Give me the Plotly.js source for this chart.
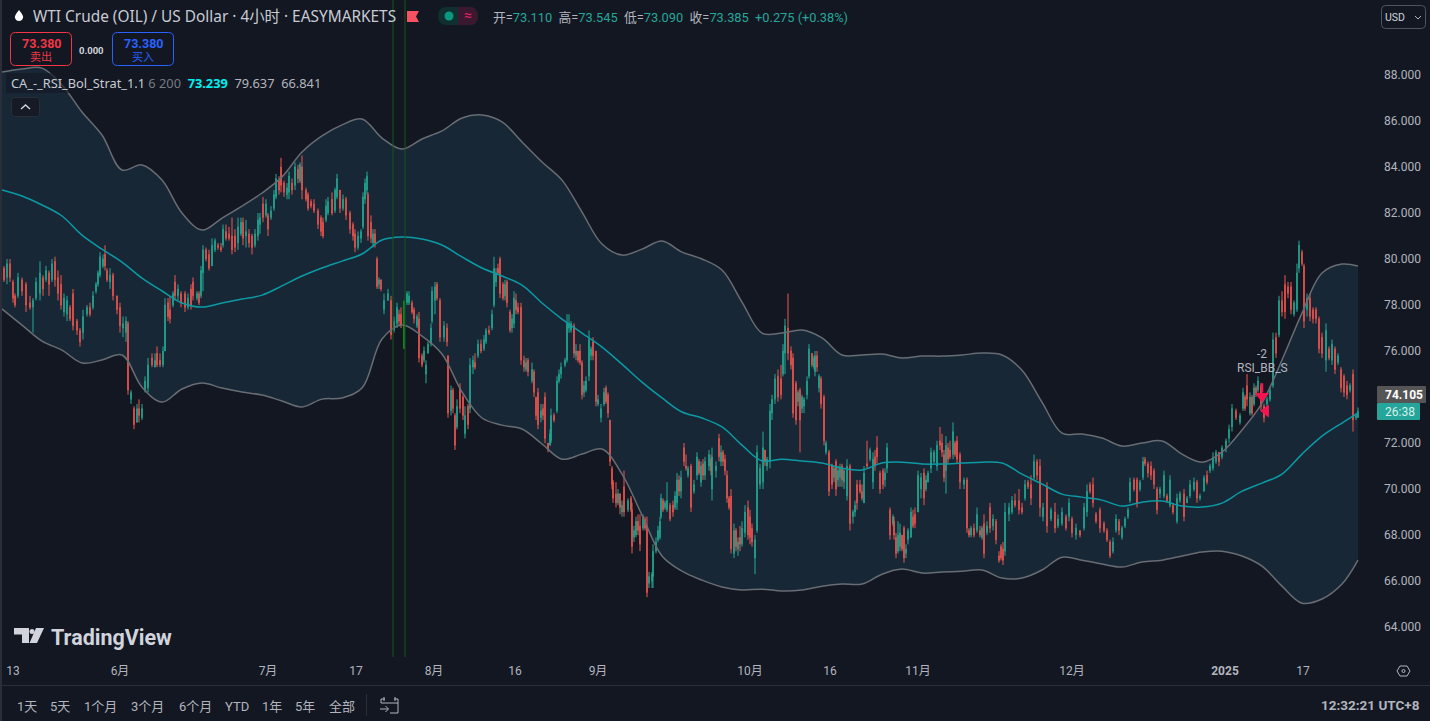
<!DOCTYPE html>
<html><head><meta charset="utf-8">
<script src="https://cdn.plot.ly/plotly-3.0.1.min.js"></script>
<style>html,body{margin:0;padding:0;background:#131722}#chart{width:1430px;height:721px}</style>
</head><body><div id="chart"></div>
<script>
// Sampled 4-hour bars: [bar number, open, high, low, close]
const barsMay=[[2,79.6,79.7,79.0,79.1],[5,79.2,80.0,78.9,79.8],[8,79.8,80.0,79.0,79.2],[11,79.0,79.1,78.1,78.3],[13,78.4,78.5,77.9,78.0],[16,78.4,79.4,78.3,79.2],[20,79.1,79.2,78.4,78.6],[24,78.9,79.0,77.7,78.0],[28,78.1,78.4,77.8,77.9],[31,77.9,78.3,76.8,78.2],[34,78.3,79.2,78.2,79.0],[38,78.5,79.9,78.2,79.4],[41,79.2,79.3,78.4,78.7],[44,79.1,79.7,79.0,79.5],[47,79.4,79.5,78.4,78.9],[50,79.1,80.0,79.0,79.8],[53,79.9,80.1,78.8,79.1],[56,79.2,79.5,78.2,78.5],[59,78.9,79.3,77.8,78.0],[62,77.7,78.5,77.5,78.3],[65,77.6,78.4,77.3,78.2],[68,77.9,78.0,77.3,77.4],[71,78.5,78.7,76.9,77.1],[75,77.3,77.4,76.7,76.9],[78,76.9,77.0,76.2,76.4],[81,76.8,77.8,76.5,77.5],[85,77.6,78.0,77.5,77.9],[88,77.9,78.1,77.5,77.6],[91,77.9,78.6,77.8,78.4],[94,78.6,79.0,78.5,78.9],[96,78.9,79.5,78.8,79.4],[98,79.3,80.3,79.2,80.1],[101,79.7,80.2,79.6,80.0],[103,80.2,80.6,79.5,79.7],[105,79.5,79.6,79.0,79.1],[108,79.0,79.6,78.7,79.3],[111,79.3,79.4,78.2,78.4],[115,78.4,78.4,77.6,77.8],[118,77.9,78.1,76.8,77.1]];
const barsJun=[[121,77.0,77.5,76.6,77.2],[124,76.8,77.5,76.4,77.3],[126,77.2,77.3,74.1,74.3],[129,73.9,74.3,73.7,74.2],[132,73.5,73.6,72.6,72.8],[135,72.9,73.7,72.9,73.5],[137,73.5,73.9,72.9,73.2],[140,73.1,73.7,73.0,73.5],[143,74.3,74.9,74.2,74.7],[146,74.4,75.7,74.2,75.4],[150,75.7,75.9,75.3,75.4],[153,75.3,75.9,75.3,75.6],[155,75.9,76.2,75.3,75.4],[158,75.6,75.9,75.3,75.4],[161,75.4,76.2,75.3,76.0],[163,76.0,78.3,76.0,78.0],[166,78.1,78.3,77.3,77.5],[168,77.8,78.4,77.2,77.4],[171,78.0,78.6,77.9,78.5],[173,79.0,79.3,78.2,78.4],[176,78.4,78.9,78.2,78.7],[179,78.5,78.6,77.9,78.1],[183,78.5,78.6,77.7,77.9],[186,77.9,78.5,77.8,78.3],[189,78.7,78.9,77.8,78.0],[191,79.0,79.2,78.2,78.4],[195,78.3,78.6,78.2,78.5],[197,78.5,78.6,78.0,78.1],[199,78.4,79.7,78.3,79.5],[201,79.4,80.6,78.6,80.4],[204,80.4,80.5,79.9,80.0],[207,80.2,80.4,79.5,79.6],[210,79.7,80.9,79.7,80.6],[213,80.4,80.9,80.3,80.8],[216,80.6,80.7,80.4,80.5],[219,80.5,80.7,80.3,80.4],[221,80.6,81.5,80.5,81.3],[224,81.2,81.5,80.8,80.9],[227,81.1,81.4,80.8,80.9],[230,81.0,81.8,80.2,80.4],[233,81.0,81.3,80.3,80.5],[236,80.7,81.8,80.4,81.4],[239,81.1,81.8,81.0,81.6],[241,81.6,81.8,80.6,80.9],[244,81.0,81.7,80.5,81.2],[247,81.1,81.3,80.5,80.7],[250,81.0,81.1,80.2,80.5],[253,80.6,81.3,80.5,81.1],[256,81.0,82.0,80.8,81.7],[258,81.5,82.0,81.1,81.8],[261,82.4,82.7,81.6,81.8],[264,81.9,82.6,81.8,82.4],[266,81.9,82.0,81.0,81.3]];
const barsJul=[[269,81.8,82.3,81.7,82.1],[272,82.2,83.0,82.1,82.8],[274,82.7,83.7,82.6,83.5],[277,83.4,83.6,82.8,83.0],[279,84.0,84.4,82.9,83.2],[282,83.3,83.4,82.7,82.9],[285,82.8,83.3,82.6,83.1],[287,82.9,83.8,82.6,83.6],[290,83.3,83.5,82.8,83.0],[293,83.2,84.2,83.0,84.0],[296,83.9,84.1,83.3,83.5],[298,83.4,84.2,83.3,84.1],[300,84.0,84.5,82.6,83.0],[304,83.0,83.1,82.5,82.6],[306,82.8,82.9,82.1,82.2],[309,82.5,82.6,82.2,82.3],[312,82.4,82.6,82.0,82.1],[316,82.1,82.2,81.3,81.5],[319,81.8,81.9,81.0,81.2],[321,81.6,81.8,80.9,81.0],[324,81.7,82.6,81.6,82.3],[326,82.0,82.7,81.9,82.5],[330,82.6,82.9,81.9,82.0],[333,82.1,83.1,82.0,83.0],[335,82.7,83.7,82.6,83.5],[338,83.0,83.0,82.0,82.2],[341,82.2,82.8,82.1,82.6],[344,82.6,82.7,81.7,81.9],[348,82.0,82.1,81.1,81.3],[351,81.5,81.6,80.8,81.0],[353,81.1,81.3,80.3,80.5],[356,80.5,81.2,80.4,81.0],[359,80.9,81.3,80.7,81.2],[361,81.4,82.9,81.3,82.7],[363,82.6,83.5,82.4,83.3],[365,83.0,83.8,82.8,83.6],[366,82.8,82.9,80.8,81.0],[369,81.6,81.9,80.7,80.9],[371,80.7,81.3,80.5,81.1],[373,81.1,81.3,80.5,80.7],[375,80.0,80.1,78.7,78.8],[377,78.9,79.2,78.7,79.1],[379,79.1,79.1,78.6,78.7],[382,77.8,78.5,77.6,78.2],[386,78.2,78.7,78.2,78.5],[389,78.2,78.4,76.5,76.7],[392,76.9,77.5,76.8,77.3],[395,77.2,78.1,77.0,77.9],[397,77.6,77.8,77.1,77.3],[399,77.6,77.9,77.0,77.1],[402,77.5,77.7,76.1,76.3],[405,78.1,78.6,78.0,78.5],[407,78.1,78.6,78.0,78.4],[410,78.1,78.2,77.6,77.7],[412,77.8,77.9,77.2,77.4],[415,77.1,77.6,77.0,77.5],[417,77.4,77.7,75.5,75.7],[420,75.8,75.9,75.3,75.4],[422,75.6,76.2,75.5,76.0],[424,75.0,75.6,74.6,75.4],[426,75.9,76.4,75.9,76.3],[429,76.3,77.2,76.2,77.0],[430,77.3,78.8,77.2,78.6]];
const barsAug=[[433,78.2,79.0,77.6,78.8],[435,78.9,79.0,78.2,78.3],[438,78.2,78.3,76.4,76.6],[442,76.6,77.3,76.4,77.1],[445,77.0,77.2,76.2,76.4],[446,75.8,75.8,73.1,73.3],[449,73.4,74.5,73.2,74.3],[451,74.3,74.4,73.3,73.5],[453,73.2,73.3,71.7,71.9],[455,72.7,73.9,72.6,73.6],[458,74.4,74.6,73.3,73.5],[461,74.0,74.1,73.0,73.2],[463,72.4,73.6,72.2,73.2],[466,73.6,73.7,72.6,72.8],[468,73.5,75.7,73.3,75.4],[471,75.3,75.8,75.0,75.6],[473,75.5,75.9,75.2,75.3],[476,75.8,76.5,75.7,76.3],[479,76.3,76.5,75.9,76.0],[482,76.1,76.7,76.0,76.5],[484,76.4,77.0,76.3,76.9],[487,76.9,77.1,76.7,76.8],[490,77.0,77.8,76.9,77.6],[492,78.0,80.1,77.9,79.6],[494,79.0,79.6,78.8,79.4],[496,79.6,79.8,79.3,79.4],[498,80.0,80.1,78.3,78.5],[501,78.9,79.0,78.2,78.3],[503,78.4,79.1,78.2,78.9],[505,79.0,79.1,77.9,78.1],[508,77.7,77.8,76.8,76.9],[510,77.0,77.6,76.8,77.4],[512,77.2,78.6,77.0,78.3],[514,78.2,78.5,77.6,77.8],[516,77.9,78.1,77.6,77.7],[519,77.9,78.1,75.4,75.6],[522,75.6,75.8,75.1,75.3],[524,75.2,75.7,75.1,75.5],[526,75.6,75.7,74.9,75.1],[530,74.7,75.5,74.6,75.2],[532,75.1,75.2,74.0,74.2],[534,74.0,74.0,73.0,73.2],[536,74.2,74.4,72.6,72.8],[539,73.1,73.7,72.9,73.4],[541,73.5,73.7,73.0,73.2],[543,74.0,74.2,72.0,72.2],[546,72.0,72.0,71.6,71.7],[548,71.9,72.6,71.9,72.4],[549,72.1,73.5,72.0,73.2],[552,73.2,73.3,72.9,73.0],[555,73.4,74.9,73.3,74.7],[557,74.7,75.2,74.6,75.0],[559,75.0,75.5,74.8,75.3],[563,75.4,75.7,75.3,75.6],[565,75.6,77.6,75.5,77.2],[567,77.0,77.6,76.8,77.2],[569,76.9,77.3,76.8,77.2],[572,77.1,77.2,75.7,75.9],[574,75.8,76.3,75.6,76.0],[576,76.0,76.0,75.5,75.6],[578,76.0,76.3,75.4,75.5],[580,75.5,75.6,73.9,74.1],[582,74.2,74.7,74.0,74.5],[584,74.3,74.9,74.2,74.7],[587,74.9,76.9,74.7,76.5],[589,75.8,76.2,75.6,76.1],[591,76.4,76.6,75.6,75.8]];
const barsSep=[[594,76.0,76.0,73.6,73.8],[596,73.7,74.1,73.6,73.9],[599,73.1,73.7,72.9,73.5],[602,73.7,74.4,73.6,74.2],[604,74.4,74.5,73.7,73.8],[606,74.1,74.2,73.1,73.3],[608,73.0,73.0,71.0,71.2],[610,70.9,71.0,70.0,70.2],[611,70.3,70.4,69.4,69.6],[614,69.8,70.3,69.2,69.4],[616,69.4,70.0,69.3,69.8],[618,69.8,69.8,68.9,69.2],[620,69.0,69.5,68.8,69.3],[622,70.1,70.8,68.8,69.0],[626,69.1,69.6,69.0,69.5],[629,69.6,69.7,69.0,69.1],[630,69.1,69.4,67.2,67.5],[632,67.9,68.4,67.7,68.2],[634,68.0,68.8,67.9,68.6],[636,68.6,68.9,68.0,68.2],[638,68.4,68.9,67.3,67.6],[641,68.3,68.9,68.2,68.8],[643,68.7,68.8,68.2,68.3],[645,68.4,68.8,65.3,65.5],[647,65.9,66.4,65.7,66.2],[650,66.0,66.4,65.7,66.3],[651,66.2,67.6,65.7,67.3],[654,67.3,67.9,67.2,67.7],[656,67.8,68.4,67.7,68.2],[658,67.9,68.8,67.8,68.6],[659,68.8,69.8,68.7,69.6],[661,69.5,69.6,69.0,69.1],[663,69.2,69.5,69.1,69.4],[665,69.1,70.3,69.0,69.5],[668,69.3,69.4,68.6,68.7],[671,69.3,69.5,68.8,69.0],[673,69.2,69.9,69.1,69.7],[675,69.4,70.7,69.1,70.4],[677,70.4,70.6,69.7,69.9],[679,69.9,70.8,69.6,70.5],[682,71.8,72.0,71.0,71.2],[684,71.0,71.5,70.8,70.9],[686,70.6,71.0,70.5,70.9],[689,71.0,71.1,69.0,69.2],[692,69.9,70.4,69.8,70.2],[695,70.6,71.6,70.4,71.4],[697,71.2,71.3,70.6,70.7],[699,70.3,71.2,70.1,71.0],[701,71.1,71.3,70.4,70.6],[703,70.6,71.4,70.4,71.2],[707,71.0,71.7,70.8,71.5],[709,71.3,71.5,70.6,70.8],[710,70.0,71.8,69.5,71.4],[714,70.8,71.2,70.5,71.0],[717,72.2,72.4,71.2,71.4],[719,71.2,71.9,71.0,71.6],[721,71.6,71.7,71.0,71.2],[723,71.3,71.5,70.6,70.8],[725,70.6,70.8,69.4,69.6],[727,69.6,69.7,69.1,69.2],[729,69.7,70.0,67.2,67.4],[732,67.2,68.5,67.0,68.2],[734,68.2,68.3,67.3,67.5],[736,67.4,67.9,67.1,67.7],[738,67.9,68.4,67.3,67.6],[740,67.6,68.6,67.5,68.3],[743,68.1,69.3,67.9,69.0],[746,69.2,69.5,67.8,68.0]];
const barsOct=[[748,68.8,69.1,67.6,67.9],[750,68.3,68.5,67.5,67.7],[753,67.0,68.0,66.3,67.8],[755,68.2,71.9,68.1,71.6],[758,70.2,71.1,70.0,70.9],[761,70.3,72.5,70.0,71.8],[763,71.7,71.7,71.0,71.2],[765,71.0,71.4,70.8,71.3],[768,71.2,73.7,70.9,73.4],[770,73.3,74.1,73.0,73.9],[773,73.9,75.0,73.7,74.8],[776,74.9,75.2,73.8,74.0],[779,74.8,75.4,73.9,74.1],[781,75.0,76.3,74.9,76.0],[783,75.9,77.4,75.0,77.1],[786,77.0,78.5,75.6,75.9],[789,76.0,76.2,75.2,75.4],[791,75.7,75.9,73.1,73.3],[794,74.6,74.7,72.8,73.0],[796,73.8,74.3,73.6,74.2],[798,74.3,74.4,71.6,73.0],[800,73.5,74.1,73.3,74.0],[802,73.6,74.0,73.3,73.9],[805,74.1,74.9,73.9,74.7],[807,74.9,76.3,74.8,76.1],[810,75.9,75.9,75.3,75.4],[812,75.3,75.8,75.2,75.7],[813,75.1,76.0,74.9,75.8],[815,75.8,76.0,75.1,75.3],[817,74.4,75.0,74.2,74.9],[819,74.8,74.9,73.5,73.7],[822,74.0,74.1,71.9,72.1],[824,71.6,72.1,71.5,72.0],[827,71.6,71.7,69.7,69.9],[830,71.0,71.1,70.0,70.2],[832,70.5,71.0,70.3,70.9],[834,71.2,71.3,69.7,70.0],[836,70.4,71.0,70.1,70.8],[838,70.5,71.1,70.1,70.9],[840,71.0,71.1,70.1,70.4],[842,70.3,70.9,70.0,70.8],[845,69.7,71.3,69.5,71.0],[848,71.0,71.1,68.2,68.5],[851,68.8,69.1,68.5,69.0],[853,69.0,69.5,68.8,69.3],[855,70.2,70.4,69.1,69.4],[858,70.2,70.4,69.8,69.9],[860,69.9,70.2,69.5,69.6],[862,69.4,71.0,69.4,70.7],[865,71.1,72.1,70.9,71.0],[868,71.3,71.8,71.2,71.7],[871,70.3,71.6,70.0,71.3],[873,71.4,71.7,70.8,71.0],[875,71.8,72.3,71.1,71.4],[878,70.7,70.8,69.8,70.0],[881,70.8,70.9,70.0,70.2],[883,70.4,70.9,70.1,70.7],[885,70.9,72.0,70.7,71.8],[888,69.1,69.2,67.8,68.0],[891,68.5,68.9,68.4,68.8],[892,68.6,68.8,67.8,68.0],[894,67.9,68.1,67.0,67.2],[896,67.3,68.6,67.2,68.0],[898,67.5,68.5,67.3,68.1],[900,68.0,68.0,67.3,67.4],[902,68.3,68.4,66.8,67.0],[904,67.2,67.6,67.0,67.4],[906,67.8,68.3,67.6,68.2],[909,67.9,69.2,67.9,69.0],[911,68.8,69.1,68.3,68.4],[913,68.9,69.2,68.3,68.5]];
const barsNov=[[916,69.0,70.8,69.0,70.6],[919,70.0,70.7,69.6,70.5],[922,70.7,70.9,69.3,69.6],[924,70.0,70.6,69.9,70.4],[926,70.3,70.8,70.3,70.7],[929,70.9,71.8,70.7,71.6],[932,71.2,71.7,71.1,71.6],[935,71.0,72.1,70.8,71.9],[938,72.1,72.7,71.7,71.9],[940,72.0,72.4,71.4,71.6],[942,71.5,71.7,70.3,70.5],[944,70.8,72.3,69.8,71.9],[946,71.8,72.0,71.1,71.3],[948,71.7,72.1,71.3,71.4],[951,71.5,72.9,71.3,72.5],[953,72.0,72.1,71.4,71.5],[955,72.1,72.3,71.1,71.3],[958,71.5,71.6,70.0,70.3],[962,70.2,70.5,70.0,70.4],[965,70.4,70.5,68.1,68.3],[967,68.2,68.3,67.9,68.0],[969,68.0,68.4,67.9,68.3],[972,68.3,68.5,67.9,68.0],[975,68.2,69.2,68.1,68.9],[978,68.2,68.4,67.9,68.0],[980,67.9,68.4,67.8,68.3],[982,68.5,68.9,67.0,67.2],[985,68.1,68.6,68.0,68.4],[988,69.2,69.4,68.1,68.3],[991,68.4,68.9,68.2,68.7],[994,68.6,68.7,67.6,67.8],[997,67.1,67.3,66.8,66.9],[999,67.5,67.6,66.9,67.0],[1001,67.4,67.7,66.7,66.9],[1003,67.3,69.4,67.1,69.0],[1007,68.9,69.4,68.6,69.2],[1010,69.0,69.7,68.9,69.5],[1013,69.5,69.8,69.2,69.3],[1017,69.5,70.0,68.9,69.1],[1020,69.2,69.4,68.9,69.0],[1023,69.6,70.4,69.5,70.2],[1026,70.3,70.4,70.0,70.1],[1029,70.2,70.6,69.3,69.6],[1032,70.5,71.5,70.4,71.2],[1035,71.2,71.3,70.4,70.6],[1038,71.0,71.3,68.8,69.2],[1041,68.8,69.4,68.6,69.2],[1045,70.1,70.3,68.1,68.4],[1049,68.7,69.2,68.6,69.1],[1053,69.0,69.4,68.1,68.3],[1056,68.4,68.9,68.3,68.7],[1060,68.5,69.2,68.4,69.0],[1064,68.8,68.9,68.2,68.3],[1067,68.8,69.6,68.6,69.4]];
const barsDec=[[1070,68.7,68.8,67.9,68.1],[1074,68.0,68.5,67.8,68.3],[1078,68.2,68.2,67.9,68.0],[1082,68.3,69.4,68.2,69.2],[1085,69.0,70.2,68.8,69.9],[1088,70.2,70.3,69.8,69.9],[1091,70.2,70.5,69.2,69.4],[1094,68.9,69.0,68.5,68.6],[1098,69.1,69.2,68.1,68.3],[1102,68.5,68.6,68.1,68.2],[1105,68.2,68.3,67.7,67.8],[1108,67.7,67.8,67.0,67.1],[1111,67.3,67.9,67.2,67.7],[1114,68.2,68.9,68.1,68.7],[1117,68.6,68.7,68.0,68.2],[1120,67.9,68.4,67.8,68.3],[1123,68.4,68.8,68.3,68.7],[1126,68.8,69.2,68.7,69.1],[1128,69.5,70.5,69.4,70.3],[1132,70.4,70.5,69.9,70.0],[1135,70.4,70.5,69.2,69.4],[1138,70.0,70.4,69.9,70.3],[1141,70.5,71.4,70.4,71.2],[1143,71.3,71.4,71.0,71.1],[1146,71.1,71.2,70.5,70.7],[1149,71.0,71.2,70.4,70.6],[1152,70.8,70.9,70.0,70.2],[1155,70.0,70.1,68.9,69.1],[1158,69.8,70.1,69.6,70.0],[1162,69.7,70.8,69.6,70.6],[1165,69.7,69.8,69.4,69.5],[1168,69.3,70.6,69.2,70.4],[1171,69.3,69.4,68.9,69.0],[1175,68.6,69.8,68.5,69.6],[1178,69.5,69.9,69.4,69.8],[1182,69.8,70.0,68.6,68.8],[1185,69.4,69.7,69.4,69.6],[1188,69.7,70.4,69.6,70.2],[1192,70.0,70.5,69.9,70.3],[1195,70.3,70.4,69.4,69.6],[1198,69.6,69.8,69.5,69.7],[1202,69.9,70.6,69.9,70.5],[1205,70.6,70.8,70.2,70.3],[1208,70.8,71.1,70.7,71.0],[1211,70.9,71.6,70.8,71.4],[1214,71.2,71.7,71.1,71.6],[1217,71.6,71.6,71.0,71.2],[1220,71.4,71.9,71.3,71.8]];
const barsJan=[[1224,71.8,72.2,71.6,72.1],[1227,72.2,72.8,72.0,72.6],[1230,72.7,73.7,72.5,73.5],[1234,73.4,73.5,73.0,73.1],[1238,72.9,73.3,72.8,73.2],[1241,73.5,74.4,73.4,74.2],[1243,74.0,74.1,73.4,73.5],[1245,74.5,75.0,73.6,73.9],[1248,73.3,74.2,73.2,74.0],[1250,74.0,74.1,73.2,73.3],[1252,73.7,74.6,73.6,74.4],[1254,74.4,74.5,74.0,74.1],[1256,74.3,74.9,74.2,74.7],[1259,74.5,74.6,73.4,73.6],[1262,73.6,73.7,72.9,73.1],[1265,73.7,74.0,73.5,73.9],[1268,73.9,74.4,73.8,74.3],[1271,74.5,76.8,74.4,76.5],[1274,76.6,76.8,75.7,75.9],[1277,76.7,78.4,76.6,78.2],[1280,78.2,78.6,77.5,77.7],[1283,78.9,79.3,77.4,77.7],[1286,78.8,79.0,78.3,78.5],[1289,78.8,79.0,77.6,77.8],[1292,77.6,78.2,77.5,78.1],[1295,77.8,79.8,77.7,79.4],[1297,79.6,80.8,79.4,80.6],[1300,80.3,80.4,79.7,79.8],[1302,79.7,79.8,77.0,77.3],[1305,77.8,78.5,77.5,78.3],[1308,78.3,78.5,77.3,77.5],[1311,77.8,77.9,77.2,77.4],[1314,77.8,77.9,77.2,77.4],[1317,77.4,77.5,75.9,76.1],[1320,76.6,76.8,75.7,75.9],[1324,75.6,77.2,75.1,76.9],[1327,76.1,76.2,75.6,75.7],[1330,75.6,76.5,75.4,76.3],[1333,76.1,76.2,75.0,75.2],[1336,75.5,75.9,75.4,75.8],[1339,75.2,75.3,74.2,74.4],[1342,74.9,75.0,74.0,74.2],[1345,74.5,74.7,73.9,74.1],[1348,74.3,74.6,74.2,74.5],[1351,75.0,75.2,72.5,73.0],[1354,73.1,73.3,73.0,73.2],[1356,73.11,73.545,73.09,73.385]];

const bandBars=[0,20,40,60,80,100,120,140,160,180,200,220,240,260,280,300,320,340,360,380,400,420,440,460,480,500,520,540,560,580,600,620,640,660,680,700,720,740,760,780,800,820,840,860,880,900,920,940,960,980,1000,1020,1040,1060,1080,1100,1120,1140,1160,1180,1200,1220,1240,1260,1280,1300,1320,1340,1356];
const upperBand=[88.13,88.26,88.30,87.57,86.39,85.39,83.87,84.09,83.43,82.00,81.26,81.78,82.30,82.87,83.57,84.65,85.35,85.83,86.09,85.26,84.78,85.22,85.57,86.13,86.26,85.96,85.09,84.22,83.43,82.04,80.65,80.17,80.43,80.78,80.30,80.00,79.52,78.13,76.78,76.78,76.91,76.57,75.83,75.83,75.87,75.70,75.78,75.78,75.83,75.91,75.83,75.17,73.78,72.43,72.39,72.22,71.87,72.00,72.09,71.52,71.17,71.61,72.57,73.74,75.61,77.65,79.39,79.78,79.70];
const middleBand=[83.00,82.74,82.35,81.87,81.04,80.43,79.87,79.17,78.61,78.09,77.91,78.09,78.26,78.43,78.83,79.26,79.61,79.91,80.22,80.83,80.96,80.87,80.61,80.09,79.61,79.26,78.87,78.09,77.39,76.78,76.17,75.43,74.65,73.96,73.35,73.09,72.70,71.91,71.22,71.30,71.22,71.13,70.91,70.83,71.13,71.17,71.09,71.09,71.13,71.17,71.13,70.65,70.22,69.78,69.65,69.52,69.26,69.43,69.48,69.26,69.22,69.39,69.91,70.26,70.65,71.52,72.30,72.87,73.30];
const lowerBand=[77.83,77.13,76.43,76.04,75.48,75.61,75.83,74.43,73.78,74.35,74.61,74.39,74.22,74.09,73.83,73.57,73.91,73.96,74.39,76.52,77.13,76.65,75.87,74.22,73.09,72.78,72.61,71.96,71.30,71.52,71.74,70.65,68.87,67.09,66.43,66.04,65.74,65.61,65.65,65.57,65.61,65.78,65.87,65.87,66.30,66.52,66.35,66.39,66.43,66.48,66.13,66.13,66.48,67.04,66.91,66.74,66.61,66.83,66.91,67.09,67.26,67.30,67.09,66.65,65.78,65.04,65.22,65.87,66.91];

const priceTicks=[64,66,68,70,72,74,76,78,80,82,84,86,88];
const timeTickBars=[11,118,266,354,432,513,596,748,828,916,1070,1223,1301];
const timeTickLabels=['13','6月','7月','17','8月','16','9月','10月','16','11月','12月','<b>2025</b>','17'];
const rangeLabels=['1天','5天','1个月','3个月','6个月','YTD','1年','5年','全部'];
const signalBars=[391,403];

const rows=[].concat(barsMay,barsJun,barsJul,barsAug,barsSep,barsOct,barsNov,barsDec,barsJan);
const UP='#22ab94',DOWN='#f2564f',TAG='#26a69a',BG='#131722',SEP='#2a2e39',TXT='#b2b5be',FONT='Roboto, "Noto Sans CJK SC", sans-serif',WIDE='"Noto Sans", "Noto Sans CJK SC", sans-serif';
const W=1430,H=721,L=2,R=1374,B=657;
const X=p=>(p-L)/(R-L), Y=p=>(B-p)/B;
const ARROW='#f7134f';

const traces=[
 {type:'scatter',mode:'lines',x:bandBars,y:upperBand,line:{width:0,shape:'spline'},hoverinfo:'skip',xaxis:'x',yaxis:'y'},
 {type:'scatter',mode:'lines',x:bandBars,y:lowerBand,line:{width:0,shape:'spline'},fill:'tonexty',fillcolor:'#172736',hoverinfo:'skip',xaxis:'x',yaxis:'y'},
 {type:'candlestick',x:rows.map(r=>r[0]),open:rows.map(r=>r[1]),high:rows.map(r=>r[2]),low:rows.map(r=>r[3]),close:rows.map(r=>r[4]),width:2.4,
  increasing:{line:{color:UP,width:1},fillcolor:UP},decreasing:{line:{color:DOWN,width:1},fillcolor:DOWN},whiskerwidth:0,hoverinfo:'skip',xaxis:'x2',yaxis:'y2'},
 {type:'scatter',mode:'lines',x:[402,402],y:[78.2,76.1],line:{color:'#0c8a12',width:2},hoverinfo:'skip',xaxis:'x2',yaxis:'y2'},
 {type:'scatter',mode:'lines',x:bandBars,y:upperBand,line:{color:'#686c73',width:1.5,shape:'spline'},hoverinfo:'skip',xaxis:'x2',yaxis:'y2'},
 {type:'scatter',mode:'lines',x:bandBars,y:lowerBand,line:{color:'#686c73',width:1.5,shape:'spline'},hoverinfo:'skip',xaxis:'x2',yaxis:'y2'},
 {type:'scatter',mode:'lines',x:bandBars,y:middleBand,line:{color:'#0c9aa4',width:1.5,shape:'spline'},hoverinfo:'skip',xaxis:'x2',yaxis:'y2'},
 {type:'scatter',mode:'lines',x:[1260,1260],y:[74.6,74.2],line:{color:ARROW,width:2.5},hoverinfo:'skip',xaxis:'x2',yaxis:'y2'},
 {type:'scatter',mode:'markers',x:[1260],y:[74.04],marker:{symbol:'triangle-down',size:11,color:ARROW,opacity:1,line:{width:1,color:ARROW}},hoverinfo:'skip',xaxis:'x2',yaxis:'y2'},
 {type:'scatter',mode:'markers',x:[1264],y:[73.39],marker:{symbol:'triangle-left',size:10,color:ARROW,opacity:1,line:{width:1,color:ARROW}},hoverinfo:'skip',xaxis:'x2',yaxis:'y2'}
];

const shapes=[],ann=[];
const rect=(x0,y0,x1,y1,fill,line)=>shapes.push({type:'rect',xref:'paper',yref:'paper',x0:X(x0),x1:X(x1),y0:Y(y1),y1:Y(y0),fillcolor:fill||'rgba(0,0,0,0)',line:{color:line||'rgba(0,0,0,0)',width:line?1:0}});
const path=(pts,fill,line,w)=>shapes.push({type:'path',xref:'paper',yref:'paper',path:pts.map(c=>typeof c==='string'?c:X(c[0])+','+Y(c[1])).join(' '),fillcolor:fill||'rgba(0,0,0,0)',line:{color:line||'rgba(0,0,0,0)',width:line?(w||1):0}});
const rr=(x0,y0,x1,y1,r,fill,line)=>path(['M',[x0+r,y0],'L',[x1-r,y0],'Q',[x1,y0],[x1,y0+r],'L',[x1,y1-r],'Q',[x1,y1],[x1-r,y1],'L',[x0+r,y1],'Q',[x0,y1],[x0,y1-r],'L',[x0,y0+r],'Q',[x0,y0],[x0+r,y0],'Z'],fill,line);
const note=(t,x,y,size,color,anchor,fam)=>ann.push({text:t,xref:'paper',yref:'paper',x:X(x),y:Y(y),xanchor:anchor||'left',yanchor:'middle',showarrow:false,font:{family:fam||FONT,size:size,color:color},borderpad:0,borderwidth:0});

// signal verticals
signalBars.forEach(b=>shapes.push({type:'line',xref:'x',yref:'paper',x0:b,x1:b,y0:0,y1:1,line:{color:'#14561c',width:1},layer:'above'}));
// frame
rect(0,0,2,721,SEP);
rect(2,685,1430,686,SEP);
rect(366,694,367,716,SEP);
// legend strip
rect(6,73,324,93,'rgba(19,23,34,0.6)');
// symbol row
path(['M',[19,10],'Q',[24,16],[23,18],'Q',[22,21],[19,21],'Q',[16,21],[15,18],'Q',[14,16],[19,10],'Z'],'#ffffff');
note('WTI Crude (OIL) / US Dollar · 4小时 · EASYMARKETS',33,16,15.4,'#c8cbd3','left',WIDE);
path(['M',[407,11],'L',[419,11],'L',[416,16.5],'L',[419,22],'L',[407,22],'Z'],'#f7525f');
rr(438,7,478,25,9,'#10302f');
path(['M',[458,7],'L',[469,7],'Q',[478,7],[478,16],'Q',[478,25],[469,25],'L',[458,25],'Z'],'#3a1830');
shapes.push({type:'circle',xref:'paper',yref:'paper',x0:X(444.5),x1:X(453.5),y0:Y(20.5),y1:Y(11.5),fillcolor:'#089981',line:{width:0}});
note('≈',467.5,15.5,14,'#e91e63','center');
note('开=<span style="color:#26a69a">73.110</span>  高=<span style="color:#26a69a">73.545</span>  低=<span style="color:#26a69a">73.090</span>  收=<span style="color:#26a69a">73.385</span>  <span style="color:#26a69a">+0.275 (+0.38%)</span>',493,17,12.8,TXT);
// sell / buy
rr(10.5,32.5,71.5,65.5,5,BG,'#f23645');
rr(112.5,32.5,173.5,65.5,5,BG,'#2962ff');
note('<b>73.380</b>',41,43,12.5,'#f23645','center');
note('卖出',41,57,11,'#f23645','center');
note('<b>0.000</b>',92,50,9.5,'#d1d4dc','center');
note('<b>73.380</b>',143,43,12.5,'#2962ff','center');
note('买入',143,57,11,'#2962ff','center');
// indicator legend
note('CA_-_RSI_Bol_Strat_1.1 <span style="color:#787b86">6 200</span>  <span style="color:#00f0f0;font-weight:bold">73.239</span>  <span style="color:#b2b5be">79.637  66.841</span>',11,83,12.8,'#c8cbd3','left',WIDE);
rr(11.5,97.5,39.5,116.5,3,'#161a25',SEP);
path(['M',[21,109],'L',[25.5,105],'L',[30,109]],null,'#d1d4dc',1.4);
// currency
rr(1381.5,5.5,1425.5,28.5,4,BG,'#50535e');
note('USD',1385,17,10.5,'#d1d4dc');
path(['M',[1415,16],'L',[1418,19],'L',[1421,16]],null,TXT,1);
// price tags
rr(1377,386,1426,403,1,'#555555');
note('<b>74.105</b>',1385,395,12,'#ffffff');
rr(1377,403,1420,420,1,TAG);
note('26:38',1385,412,12,'#d7f0ec');
// signal labels
note('-2',1262,354,12,TXT,'center');
note('RSI_BB_S',1262,368,12,TXT,'center');
// watermark
path(['M',[14,628],'L',[29,628],'L',[29,643],'L',[22,643],'L',[22,634.5],'L',[14,634.5],'Z'],'#d1d4dc');
shapes.push({type:'circle',xref:'paper',yref:'paper',x0:X(29.5),x1:X(34.5),y0:Y(634),y1:Y(629),fillcolor:'#d1d4dc',line:{width:0}});
path(['M',[36,628],'L',[44,628],'L',[37,643],'L',[29.5,643],'Z'],'#d1d4dc');
note('<b>TradingView</b>',51,637,21.5,'#d1d4dc');
// range bar
[27,60,100,147,195,237,272,305,342].forEach((x,i)=>note(rangeLabels[i],x,706,13,TXT,'center'));
path(['M',[385,699],'L',[381,699],'L',[381,703],'L',[398,703],'L',[398,699],'L',[394,699],'M',[384,697],'L',[384,701],'M',[395,697],'L',[395,701],'M',[398,703],'L',[398,713],'L',[390,713],'M',[380,709],'L',[388,709],'M',[385.5,706],'L',[388.5,709],'L',[385.5,712]],null,TXT,1);
note('<b>12:32:21 UTC+8</b>',1420,705,13.5,TXT,'right');
// settings hexagon
path(['M',[1397,671],'L',[1400,666],'L',[1407,666],'L',[1410,671],'L',[1407,676],'L',[1400,676],'Z'],null,TXT,1);
shapes.push({type:'circle',xref:'paper',yref:'paper',x0:X(1402),x1:X(1405),y0:Y(672.5),y1:Y(669.5),line:{color:TXT,width:1}});

const xRange=[0,R-L],yRange=[62.70,91.26];
const layout={width:W,height:H,paper_bgcolor:BG,plot_bgcolor:BG,showlegend:false,hovermode:false,dragmode:false,
 margin:{l:L,r:W-R,t:0,b:H-B,pad:0},font:{family:FONT,color:TXT},
 xaxis:{range:xRange,type:'linear',showgrid:false,zeroline:false,showline:false,ticks:'',tickmode:'array',tickvals:timeTickBars,ticktext:timeTickLabels,tickfont:{family:FONT,size:12,color:TXT},tickangle:0,ticklabelstandoff:5,rangeslider:{visible:false},fixedrange:true},
 yaxis:{range:yRange,side:'right',showgrid:false,zeroline:false,showline:false,ticks:'',tickmode:'array',tickvals:priceTicks,ticktext:priceTicks.map(v=>v.toFixed(3)),tickfont:{family:FONT,size:12,color:TXT},ticklabelstandoff:9,fixedrange:true},
 xaxis2:{range:xRange,type:'linear',overlaying:'x',visible:false,rangeslider:{visible:false},fixedrange:true},
 yaxis2:{range:yRange,overlaying:'y',visible:false,fixedrange:true},
 shapes:shapes,annotations:ann};
Plotly.newPlot('chart',traces,layout,{displayModeBar:false,staticPlot:true});
</script></body></html>
